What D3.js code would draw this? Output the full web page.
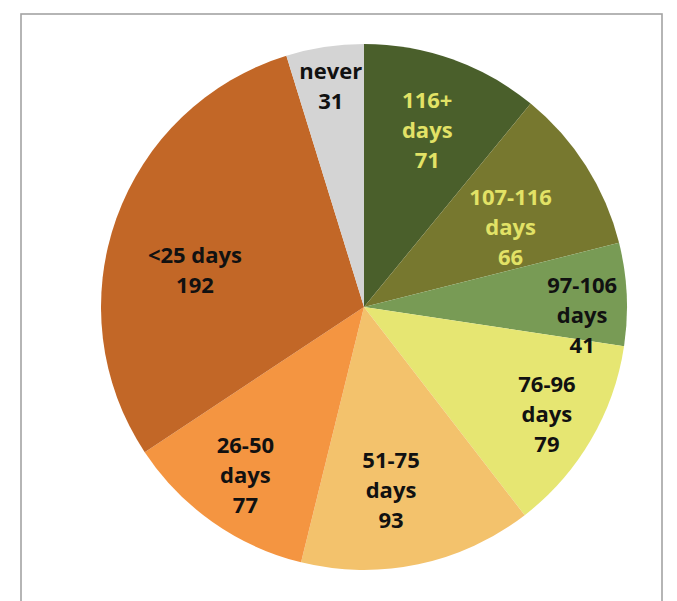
<!DOCTYPE html>
<html>
<head>
<meta charset="utf-8">
<script src="https://cdn.jsdelivr.net/npm/d3@7/dist/d3.min.js"></script>
<style>
  html, body { margin: 0; padding: 0; background: #fff; }
  svg { display: block; }
</style>
</head>
<body>
<svg id="chart" width="677" height="601"></svg>
<script>
// Days until event, clockwise from 12 o'clock
const categories = ["116+ days", "107-116 days", "97-106 days", "76-96 days",
                    "51-75 days", "26-50 days", "<25 days", "never"];
const values = [71, 66, 41, 79, 93, 77, 192, 31];
const colors = ["#4A5F2B", "#77782F", "#789B55", "#E6E672",
                "#F3C26C", "#F49541", "#C26727", "#D4D4D4"];
const textColors = ["#E2E266", "#E2E266", "#111", "#111",
                    "#111", "#111", "#111", "#111"];

// Label placement: fraction of radius, angular nudge (deg), wrap before "days"
const labelRadius = [0.715, 0.635, 0.83, 0.807, 0.703, 0.783, 0.658, 0.847];
const labelNudge = [0, 3.8, 4.9, 0, 3.5, 0, -7.3, 0];
const labelWrap = [true, true, true, true, true, true, false, false];

const svg = d3.select("#chart");
const cx = 364, cy = 307, R = 263;

// outer frame (open at the bottom edge of the page)
svg.append("rect")
  .attr("x", 21).attr("y", 14)
  .attr("width", 641).attr("height", 640)
  .attr("fill", "none")
  .attr("stroke", "#A3A3A3")
  .attr("stroke-width", 1.6);

const pie = d3.pie().sort(null).value(d => d)(values);
const arc = d3.arc().innerRadius(0).outerRadius(R);

const g = svg.append("g").attr("transform", `translate(${cx},${cy})`);

g.selectAll("path.slice")
  .data(pie)
  .join("path")
  .attr("class", "slice")
  .attr("d", arc)
  .attr("fill", (d, i) => colors[i]);

const lineH = 30;
pie.forEach((d, i) => {
  const mid = (d.startAngle + d.endAngle) / 2 + labelNudge[i] * Math.PI / 180;
  const r = labelRadius[i] * R;
  const x = r * Math.sin(mid);
  const y = -r * Math.cos(mid);
  let lines;
  if (labelWrap[i]) {
    const parts = categories[i].split(" ");
    lines = [parts[0], parts.slice(1).join(" "), String(values[i])];
  } else {
    lines = [categories[i], String(values[i])];
  }
  const t = g.append("text")
    .attr("text-anchor", "middle")
    .attr("font-family", "'Open Sans', sans-serif")
    .attr("font-weight", 700)
    .attr("font-size", 22)
    .attr("fill", textColors[i]);
  const y0 = y - (lines.length - 1) * lineH / 2;
  lines.forEach((s, k) => {
    t.append("tspan")
      .attr("x", x)
      .attr("y", y0 + k * lineH)
      .attr("dy", "0.35em")
      .text(s);
  });
});
</script>
</body>
</html>
